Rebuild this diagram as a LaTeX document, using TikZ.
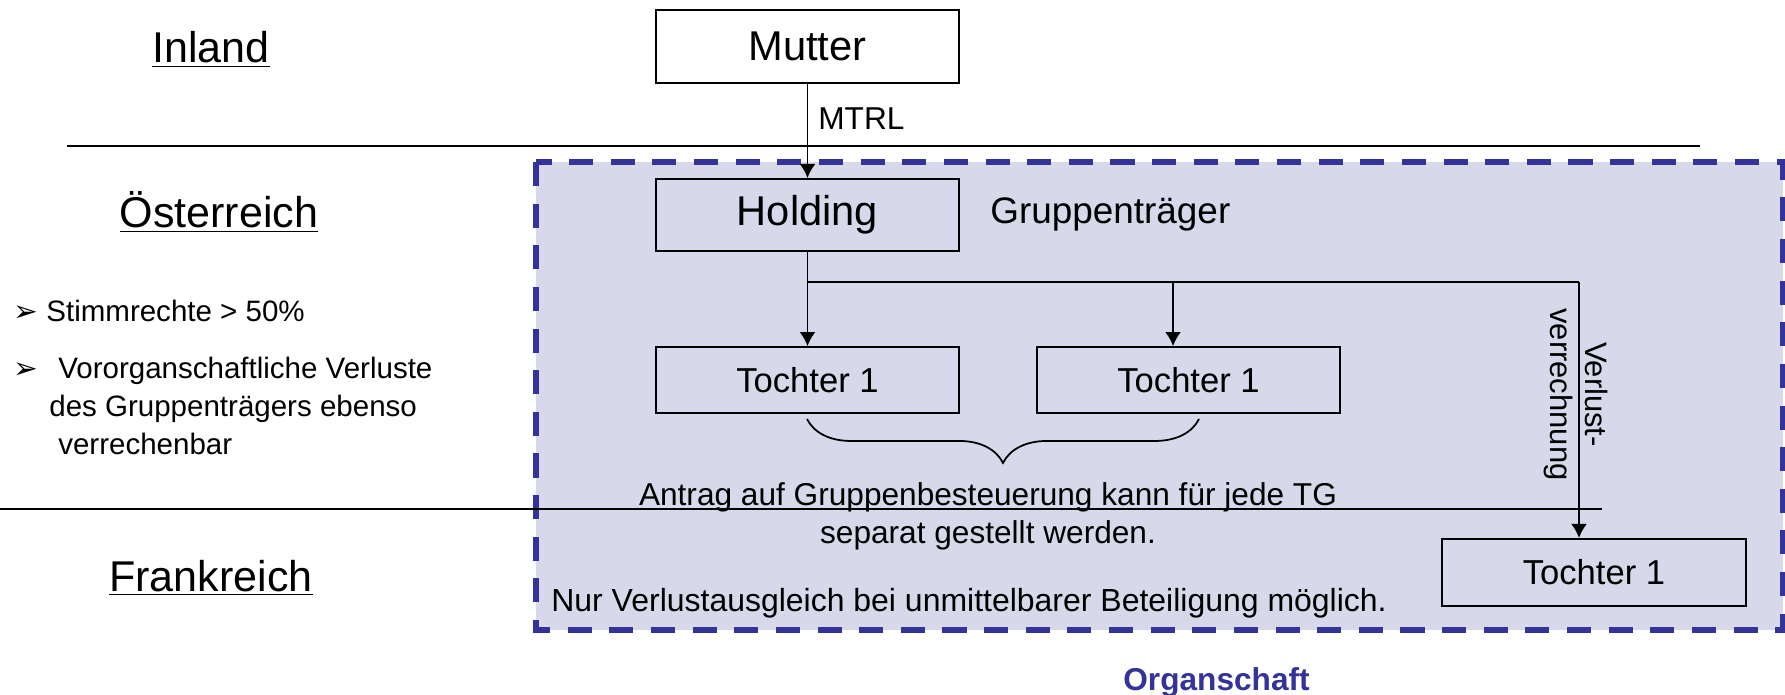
\documentclass[tikz,border=0pt]{standalone}
\usepackage{fontspec}
\setmainfont{Liberation Sans}
\newfontfamily\symfont{DejaVu Sans}
\usetikzlibrary{arrows.meta}
\usetikzlibrary{positioning}
\usetikzlibrary{decorations.pathreplacing}
\definecolor{organblue}{HTML}{333399}
\definecolor{organfill}{HTML}{D7D8EA}
\tikzstyle{block} = [rectangle, minimum width=6.06cm, minimum height=1.32cm, inner sep=0pt, text centered, draw=black, line width=1.2pt, font=\fontsize{19.7}{23}\selectfont]
\tikzstyle{bigblock} = [block, font=\fontsize{23.7}{28}\selectfont]
\tikzstyle{land} = [anchor=base, font=\fontsize{24.5}{29}\selectfont]
\tikzstyle{bullet} = [anchor=base west, inner sep=0pt, align=left, font=\fontsize{16.8}{21.9}\selectfont]
\tikzstyle{note} = [inner sep=0pt, font=\fontsize{18}{21.6}\selectfont]
\tikzstyle{arrow} = [-{Latex[length=8pt, width=9pt]}, line width=1pt]
\tikzstyle{border} = [line width=1.1pt]

\begin{document}
\begin{tikzpicture}[x=0.02cm, y=-0.02cm]
  \useasboundingbox (0,0) rectangle (1785,695);

  % Organschaft area
  \filldraw[fill=organfill, draw=organblue, line width=3.2pt, dash pattern=on 13.7pt off 10pt] (536,162) rectangle (1783,630);
  \node (organ) [anchor=base east, inner sep=0pt, text=organblue, font=\bfseries\fontsize{18}{21}\selectfont] at (1310,690) {Organschaft};

  % Country borders and labels
  \coordinate (topL) at (67,146);
  \coordinate (topR) at (1700,146);
  \coordinate (sepL) at (0,509);
  \coordinate (sepR) at (1602,509);
  \draw [border] (topL) -- (topR);
  \draw [border] (sepL) -- (sepR);
  \node (inland) [land] at (211,63) {\underline{Inland}};
  \node (oesterreich) [land] at (219,228) {\underline{Österreich}};
  \node (frankreich) [land] at (211,591) {\underline{Frankreich}};

  % Notes on the left (base = last line)
  \node (stimm) [bullet] at (13,322) {\makebox[18.8pt][l]{\symfont ➢}Stimmrechte > 50\%};
  \node (vorverl) [bullet] at (13,455) {\makebox[25.6pt][l]{\symfont ➢}Vororganschaftliche Verluste\\\hspace*{20.5pt}des Gruppenträgers ebenso\\\hspace*{25.6pt}verrechenbar};

  % Companies
  \node (mutter) [bigblock, minimum height=1.46cm, fill=white] at (807.5,46.5) {Mutter};
  \node (holding) [bigblock, minimum height=1.44cm, below=1.88cm of mutter] {Holding};
  \node (traeger) [anchor=base west, inner sep=0pt, font=\fontsize{21}{25}\selectfont] at (990,224) {Gruppenträger};
  \node (tochterA) [block, below=1.88cm of holding] {Tochter 1};
  \node (tochterB) [block, right=1.52cm of tochterA] {Tochter 1};
  \node (tochterC) [block, minimum width=6.08cm, minimum height=1.34cm] at (1594,572.5) {Tochter 1};

  % Connections
  \coordinate (fork) at (807.5,282);
  \coordinate (bend) at (1579,282);
  \draw [arrow] (mutter) -- node[pos=0.37, anchor=west, inner sep=0pt, xshift=0.2cm, font=\fontsize{18}{21}\selectfont] {MTRL} (holding);
  \draw [arrow] (holding.south) -- (fork) -- (tochterA.north);
  \draw [border] (fork) -- (bend);
  \draw [arrow] ([xshift=-0.31cm]tochterB.north |- fork) -- ([xshift=-0.31cm]tochterB.north);
  \draw [arrow] (bend) -- node[note, pos=0.5, rotate=-90, align=center, font=\fontsize{17.6}{19.9}\selectfont, xshift=-0.31cm, yshift=-0.06cm] {Verlust-\\verrechnung} (bend |- tochterC.north);

  % Brace and remarks
  \coordinate (braceL) at (807,419);
  \coordinate (braceR) at (1199,419);
  \draw [line width=1pt, decorate, decoration={brace, amplitude=25pt}] (braceR) -- (braceL);
  \node (antrag) [note, anchor=base, align=center] at (988,543) {Antrag auf Gruppenbesteuerung kann für jede TG\\separat gestellt werden.};
  \node (nur) [note, anchor=base west, font=\fontsize{18.2}{21.6}\selectfont] at (551,611) {Nur Verlustausgleich bei unmittelbarer Beteiligung möglich.};

\end{tikzpicture}
\end{document}
